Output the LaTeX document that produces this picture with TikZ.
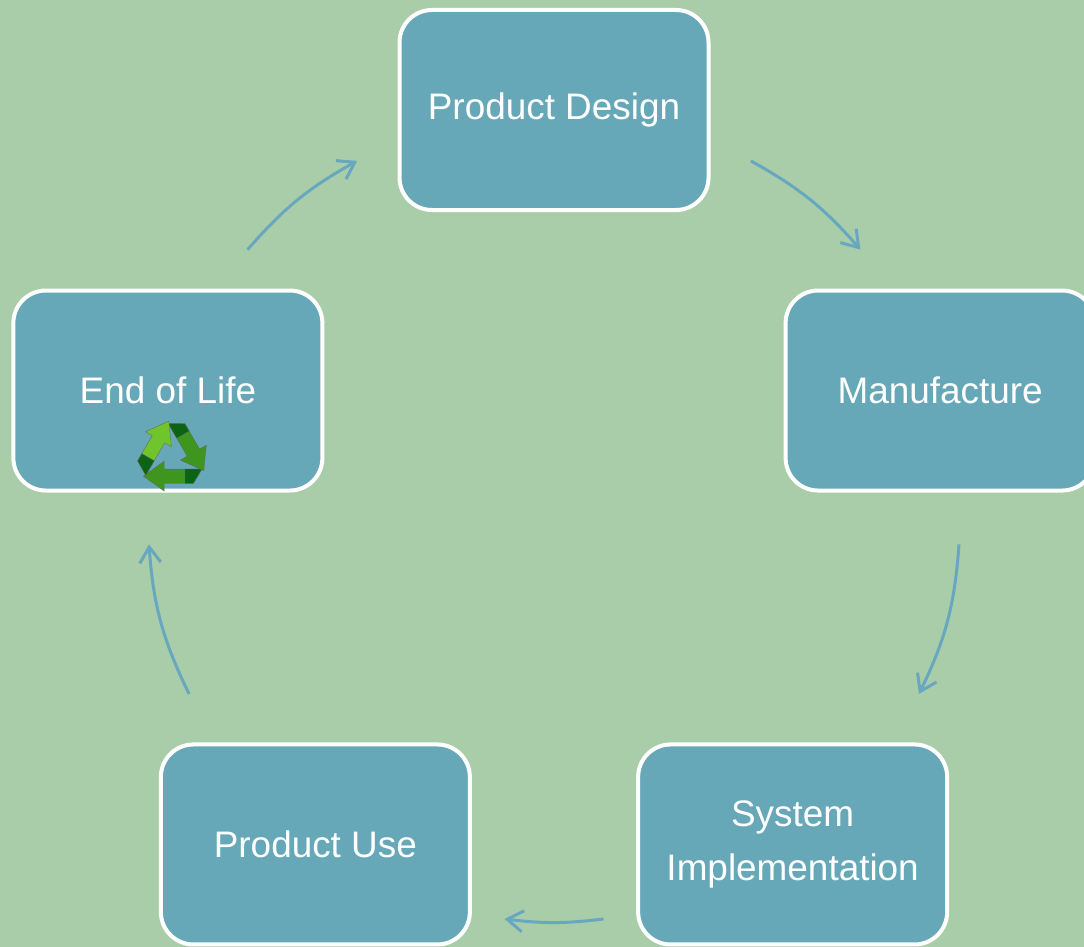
\documentclass[tikz,border=0pt]{standalone}
\usepackage{fontspec}
\setmainfont{Liberation Sans}
\usepackage{tikz}
\usetikzlibrary{arrows.meta, positioning}
\definecolor{meadow}{RGB}{170,205,169}
\definecolor{teal}{RGB}{102,168,184}
\definecolor{cycblue}{RGB}{104,167,192}
\definecolor{recylight}{RGB}{112,196,44}
\definecolor{recymid}{RGB}{62,150,30}
\definecolor{recydark}{RGB}{10,100,20}

\begin{document}
\begin{tikzpicture}[
        stage/.style={rectangle, draw=white, line width=0.08cm, fill=teal, text=white, align=center,
            minimum width=6.18cm, minimum height=4.0cm, rounded corners=0.65cm,
            font=\fontsize{21}{31}\selectfont},
        cyc/.style={-{Straight Barb[length=9pt, width=12pt]}, draw=cycblue, line width=0.06cm}
    ]

    % background
    \fill[meadow] (0,0) rectangle (21.68,-18.94);
    \useasboundingbox (0,0) rectangle (21.68,-18.94);
    \coordinate (ctr) at (11.08,-10.32);

    % stages
    \node[stage] (design) at ([shift={(90:8.12)}]ctr) {Product Design};
    \node[stage] (make)   at ([shift={(18:8.12)}]ctr) {Manufacture};
    \node[stage] (impl)   at ([shift={(-54:8.12)}]ctr) {System\\Implementation};
    \node[stage] (use)    at ([shift={(-126:8.12)}]ctr) {Product Use};
    \node[stage] (eol)    at ([shift={(162:8.12)}]ctr) {End of Life};

    % cycle arrows
    \foreach \s/\e/\b [count=\i] in {139/119/10, 61/41/10, -4/-26/11, -83/-97/7, 206/184/11}{
        \path (ctr) ++(\s:8.12) coordinate (from\i);
        \path (ctr) ++(\e:8.12) coordinate (to\i);
        \draw[cyc] (from\i) to[bend left=\b] (to\i);
    }

    % recycle sign
    \begin{scope}[shift={(3.44,-9.12)}, scale=1.3]
        \foreach \r/\c in {0/recymid, 120/recymid, 240/recylight}{
            \begin{scope}[rotate=\r]
                \filldraw[fill=\c, draw=black!60, line width=0.2pt]
                    (0.46,-0.20) -- (-0.12,-0.20) -- (-0.12,-0.08) -- (-0.44,-0.31)
                    -- (-0.12,-0.54) -- (-0.12,-0.42) -- (0.33,-0.42) -- cycle;
                \filldraw[fill=recydark, draw=black!60, line width=0.2pt]
                    (0.46,-0.20) -- (0.20,-0.20) -- (0.20,-0.42) -- (0.33,-0.42) -- cycle;
            \end{scope}
        }
    \end{scope}

\end{tikzpicture}
\end{document}
